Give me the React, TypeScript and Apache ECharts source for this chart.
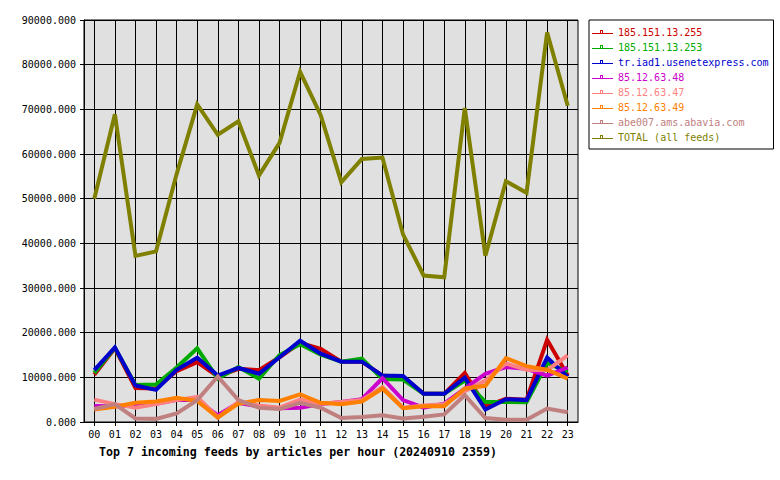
import React, { useEffect, useRef } from "react";
import * as echarts from "echarts";

const hours = ["00","01","02","03","04","05","06","07","08","09","10","11","12","13","14","15","16","17","18","19","20","21","22","23"];

const feedNames = [
  "185.151.13.255",
  "185.151.13.253",
  "tr.iad1.usenetexpress.com",
  "85.12.63.48",
  "85.12.63.47",
  "85.12.63.49",
  "abe007.ams.abavia.com",
  "TOTAL (all feeds)",
];

const feedColors = ["#cc0000", "#00aa00", "#0000cc", "#cc00cc", "#ff8080", "#ff8000", "#c08080", "#808000"];

const feed255 = [10600, 16500, 7600, 7500, 11400, 13400, 10200, 11900, 11600, 14500, 17700, 16400, 13500, 13500, 10400, 10100, 6300, 6300, 11000, 3500, 5200, 5000, 18400, 10400];
const feed253 = [11000, 16600, 8300, 8400, 12200, 16500, 9700, 12300, 9700, 15000, 17400, 15100, 13500, 14200, 9600, 9500, 6300, 6300, 9300, 4500, 4500, 4400, 13200, 11200];
const feedUsenet = [11600, 16700, 8200, 7200, 11700, 14400, 10400, 12100, 10800, 14500, 18200, 15300, 13500, 13500, 10400, 10300, 6300, 6300, 9900, 2800, 5100, 4900, 14400, 10100];
const feed48 = [3600, 3500, 3700, 4100, 5000, 4900, 1500, 4300, 3500, 3100, 3200, 4000, 4500, 5100, 9800, 4900, 3200, 4100, 7500, 10800, 12300, 11900, 10400, 12200];
const feed47 = [5000, 4000, 3200, 4000, 4900, 5600, 1000, 4500, 3700, 3200, 5000, 4100, 4500, 4900, 7800, 3200, 3700, 4000, 6900, 9300, 13100, 11700, 11600, 14900];
const feed49 = [2800, 3400, 4300, 4600, 5400, 4700, 1000, 4100, 4900, 4700, 6200, 4300, 4000, 4600, 7500, 3100, 3500, 3500, 7500, 8100, 14300, 12500, 11700, 9700];
const feedAbavia = [2900, 4000, 800, 700, 1900, 4900, 10200, 4900, 3200, 2900, 4300, 3200, 900, 1100, 1500, 800, 1200, 1700, 6000, 900, 500, 500, 3000, 2200];
const feedTotal = [50000, 68900, 37200, 38200, 55500, 71100, 64300, 67300, 55200, 62500, 78400, 68700, 53700, 58900, 59200, 42000, 32800, 32400, 70300, 37200, 53900, 51300, 87200, 70800];

const seriesValues = [feed255, feed253, feedUsenet, feed48, feed47, feed49, feedAbavia, feedTotal];

const yTicks = { min: 0, max: 90000, interval: 10000 };

const titleText = "Top 7 incoming feeds by articles per hour (20240910 2359)";

const MONO = "'DejaVu Sans Mono', 'Liberation Mono', monospace";
const LEGEND_ICON = "path://M0,3h21v1h-21z M8,0h3v1h-3z M8,0h1v3h-1z M10,0h1v3h-1z";

export default function App() {
  const ref = useRef<HTMLDivElement>(null);

  useEffect(() => {
    if (!ref.current) return;
    const chart = echarts.init(ref.current, null, { renderer: "svg" });
    chart.setOption({
      animation: false,
      backgroundColor: "#ffffff",
      title: {
        text: titleText,
        left: 99,
        top: 446,
        padding: 0,
        textStyle: { fontFamily: MONO, fontSize: 11.6, fontWeight: "bold", color: "#000" },
      },
      legend: {
        orient: "vertical",
        left: 589,
        top: 20,
        padding: [6, 5, 6, 3],
        itemGap: 3,
        itemWidth: 21,
        itemHeight: 4,
        borderColor: "#000",
        borderWidth: 1,
        borderRadius: 0,
        backgroundColor: "#fff",
        selectedMode: false,
        textStyle: { fontFamily: MONO, fontSize: 10, lineHeight: 12 },
        data: feedNames.map((n, i) => ({
          name: n,
          icon: LEGEND_ICON,
          itemStyle: { color: feedColors[i], borderWidth: 0 },
          textStyle: { color: feedColors[i] },
        })),
      },
      grid: {
        left: 84,
        right: 202,
        top: 20,
        bottom: 58,
        show: true,
        backgroundColor: "#e0e0e0",
        borderColor: "#000",
        borderWidth: 1,
      },
      xAxis: {
        type: "category",
        data: hours,
        boundaryGap: true,
        axisLine: { show: true, lineStyle: { color: "#000", width: 1 } },
        axisTick: { show: true, alignWithLabel: true, length: 4, lineStyle: { color: "#000" } },
        splitLine: { show: true, alignWithLabel: true, lineStyle: { color: "#000", width: 1 } },
        axisLabel: { interval: 0, fontFamily: MONO, fontSize: 10, color: "#000", margin: 7 },
      },
      yAxis: {
        type: "value",
        min: yTicks.min,
        max: yTicks.max,
        interval: yTicks.interval,
        axisLine: { show: true, lineStyle: { color: "#000", width: 1 } },
        axisTick: { show: true, length: 4, lineStyle: { color: "#000" } },
        splitLine: { show: true, lineStyle: { color: "#000", width: 1 } },
        axisLabel: {
          fontFamily: MONO,
          fontSize: 10,
          color: "#000",
          margin: 8,
          formatter: (v: number) => v.toFixed(3),
        },
      },
      series: feedNames.map((n, i) => ({
        name: n,
        type: "line",
        data: seriesValues[i],
        symbol: "none",
        color: feedColors[i],
        lineStyle: { color: feedColors[i], width: 4, join: "miter" },
        emphasis: { disabled: true },
        silent: true,
      })),
    });
    return () => chart.dispose();
  }, []);

  return (
    <div
      ref={ref}
      style={{ position: "fixed", left: 0, top: 0, width: 780, height: 480 }}
    />
  );
}
